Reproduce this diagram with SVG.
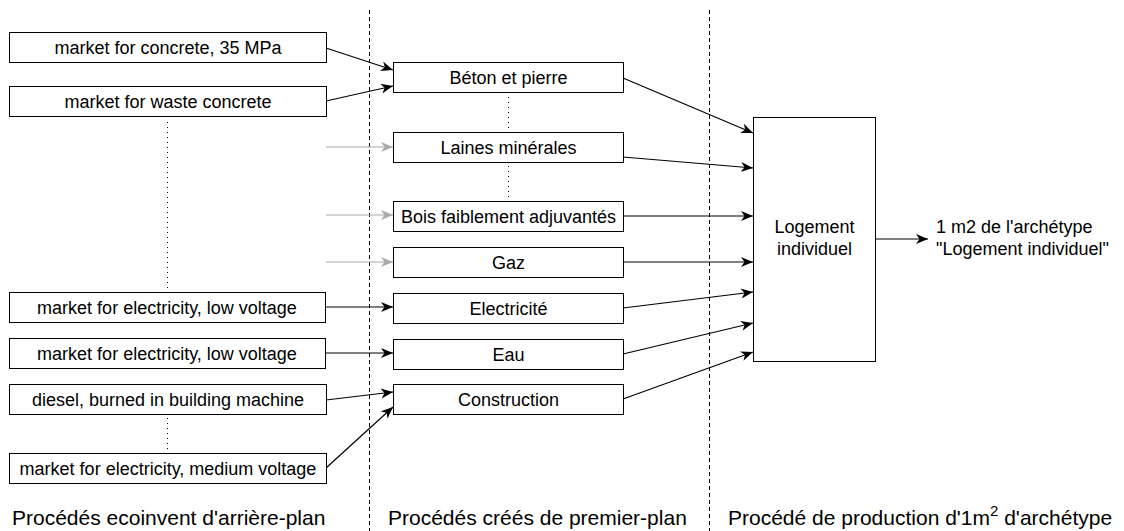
<svg xmlns="http://www.w3.org/2000/svg" width="1124" height="531" viewBox="0 0 1124 531">
<style>
.box{fill:#fff;stroke:#000;stroke-width:1}
.t{font-family:"Liberation Sans",Arial,sans-serif;font-size:18px;fill:#000;text-anchor:middle}
.lbl{font-family:"Liberation Sans",Arial,sans-serif;font-size:21px;fill:#000}
.e{fill:none;stroke:#000;stroke-width:1.2;marker-end:url(#ah)}
.g{fill:none;stroke:#aaa;stroke-width:1.2;marker-end:url(#ahg)}
.dash{stroke:#000;stroke-width:1;stroke-dasharray:4 3}
.dot{stroke:#000;stroke-width:1;stroke-dasharray:1 4}
</style>
<defs>
<marker id="ah" markerUnits="userSpaceOnUse" markerWidth="13" markerHeight="11" refX="12" refY="5" orient="auto">
<path d="M0,0 L12,5 L0,10 L3.5,5 Z" fill="#000"/>
</marker>
<marker id="ahg" markerUnits="userSpaceOnUse" markerWidth="13" markerHeight="11" refX="12" refY="5" orient="auto">
<path d="M0,0 L12,5 L0,10 L3.5,5 Z" fill="#aaa"/>
</marker>
</defs>
<rect width="1124" height="531" fill="#fff"/>
<g id="separators">
<line class="dash" x1="369.5" y1="10" x2="369.5" y2="531"/>
<line class="dash" x1="709.5" y1="10" x2="709.5" y2="531"/>
<line class="dot" x1="167.5" y1="122" x2="167.5" y2="290"/>
<line class="dot" x1="167.5" y1="418" x2="167.5" y2="452"/>
<line class="dot" x1="508.5" y1="97" x2="508.5" y2="130"/>
<line class="dot" x1="508.5" y1="166" x2="508.5" y2="199"/>
</g>
<g id="connectors">
<line class="e" x1="326" y1="48" x2="393" y2="70"/>
<line class="e" x1="326" y1="101" x2="393" y2="86"/>
<line class="g" x1="326" y1="147" x2="393" y2="147"/>
<line class="g" x1="326" y1="215" x2="393" y2="215"/>
<line class="g" x1="326" y1="262" x2="393" y2="262"/>
<line class="e" x1="325" y1="307" x2="393" y2="307"/>
<line class="e" x1="325" y1="353" x2="393" y2="353"/>
<line class="e" x1="326" y1="400" x2="393" y2="392"/>
<line class="e" x1="326" y1="468" x2="393" y2="407"/>
<line class="e" x1="623" y1="78" x2="753" y2="133"/>
<line class="e" x1="623" y1="157" x2="753" y2="168"/>
<line class="e" x1="623" y1="216" x2="753" y2="216"/>
<line class="e" x1="623" y1="262" x2="753" y2="262"/>
<line class="e" x1="623" y1="308" x2="753" y2="292"/>
<line class="e" x1="623" y1="354" x2="753" y2="323"/>
<line class="e" x1="623" y1="399" x2="753" y2="352"/>
<line class="e" x1="875" y1="239" x2="928" y2="239"/>
</g>
<g id="bg1"><rect class="box" x="9.5" y="32.5" width="317" height="30"/><text class="t" x="168" y="53.5">market for concrete, 35 MPa</text></g>
<g id="bg2"><rect class="box" x="9.5" y="86.5" width="317" height="30"/><text class="t" x="168" y="107.5">market for waste concrete</text></g>
<g id="bg3"><rect class="box" x="9.5" y="292.5" width="316" height="30"/><text class="t" x="167" y="313.5">market for electricity, low voltage</text></g>
<g id="bg4"><rect class="box" x="9.5" y="338.5" width="316" height="30"/><text class="t" x="167" y="359.5">market for electricity, low voltage</text></g>
<g id="bg5"><rect class="box" x="9.5" y="384.5" width="317" height="30"/><text class="t" x="168" y="405.5">diesel, burned in building machine</text></g>
<g id="bg6"><rect class="box" x="9.5" y="453.5" width="317" height="30"/><text class="t" x="168" y="474.5">market for electricity, medium voltage</text></g>
<g id="fg1"><rect class="box" x="393.5" y="62.5" width="230" height="30"/><text class="t" x="508.5" y="83.5">Béton et pierre</text></g>
<g id="fg2"><rect class="box" x="393.5" y="132.5" width="230" height="30"/><text class="t" x="508.5" y="153.5">Laines minérales</text></g>
<g id="fg3"><rect class="box" x="393.5" y="201.5" width="230" height="30"/><text class="t" x="508.5" y="222.5">Bois faiblement adjuvantés</text></g>
<g id="fg4"><rect class="box" x="393.5" y="247.5" width="230" height="30"/><text class="t" x="508.5" y="268.5">Gaz</text></g>
<g id="fg5"><rect class="box" x="393.5" y="293.5" width="230" height="30"/><text class="t" x="508.5" y="314.5">Electricité</text></g>
<g id="fg6"><rect class="box" x="393.5" y="339.5" width="230" height="30"/><text class="t" x="508.5" y="360.5">Eau</text></g>
<g id="fg7"><rect class="box" x="393.5" y="384.5" width="230" height="30"/><text class="t" x="508.5" y="405.5">Construction</text></g>
<g id="logement"><rect class="box" x="753.5" y="117.5" width="122" height="244"/><text class="t" x="814.5" y="233">Logement</text><text class="t" x="814.5" y="255">individuel</text></g>
<g id="output"><text class="t" x="936" y="233" style="text-anchor:start">1 m2 de l'archétype</text><text class="t" x="936" y="255" style="text-anchor:start">"Logement individuel"</text></g>
<g id="labels">
<text class="lbl" x="12" y="525">Procédés ecoinvent d'arrière-plan</text>
<text class="lbl" x="388" y="525">Procédés créés de premier-plan</text>
<text class="lbl" x="728" y="525">Procédé de production d'1m<tspan dy="-9" font-size="15">2</tspan><tspan dy="9"> d'archétype</tspan></text>
</g>
</svg>
